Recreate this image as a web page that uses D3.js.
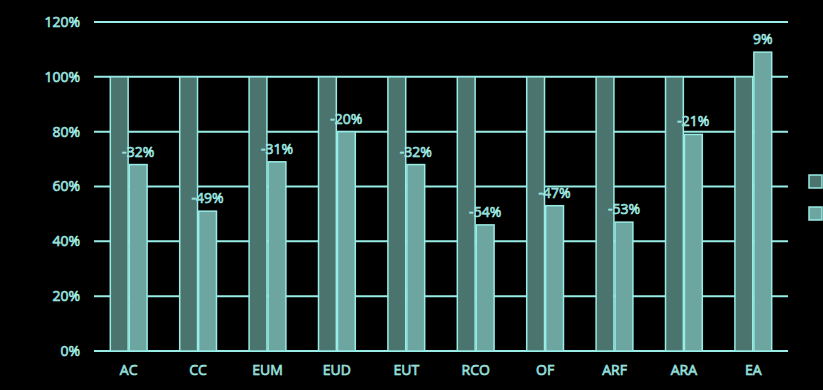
<!DOCTYPE html>
<html>
<head>
<meta charset="utf-8">
<script src="https://cdn.jsdelivr.net/npm/d3@7"></script>
<style>
  html, body { margin: 0; padding: 0; background: #000; }
  text { font-family: "Open Sans", "DejaVu Sans", sans-serif; }
</style>
</head>
<body>
<div id="chart"></div>
<script>
// categories and series
var categories = ["AC", "CC", "EUM", "EUD", "EUT", "RCO", "OF", "ARF", "ARA", "EA"];
var seriesNames = ["base", "current"];
var baseValues = [100, 100, 100, 100, 100, 100, 100, 100, 100, 100];
var currentValues = [68, 51, 69, 80, 68, 46, 53, 47, 79, 109];
var yTicks = [0, 20, 40, 60, 80, 100, 120];

var W = 823, H = 390;
var margin = { top: 22, right: 35, bottom: 39, left: 94 },
    width = W - margin.left - margin.right,
    height = H - margin.top - margin.bottom;

var lineColor = "#98ece6",
    darkFill = "#4b746f",
    lightFill = "#6da6a0",
    textFill = "#7cc4be",
    textEdge = "#a6f2ec";

var data = categories.map(function (c, i) {
  return { cat: c, values: [baseValues[i], currentValues[i]] };
});

var svg = d3.select("#chart").append("svg")
  .attr("width", W)
  .attr("height", H)
  .style("background", "#000");

var g = svg.append("g")
  .attr("transform", "translate(" + margin.left + "," + margin.top + ")");

// outlined text look
function styleText(sel, size) {
  sel.attr("fill", textFill)
    .attr("stroke", textEdge)
    .attr("stroke-width", 0.6)
    .style("font-size", size + "px");
}

// scales
var x0 = d3.scaleBand()
  .domain(categories)
  .range([0, width])
  .paddingInner(0.47)
  .paddingOuter(0.235);

var x1 = d3.scaleBand()
  .domain(seriesNames)
  .range([0, x0.bandwidth()])
  .paddingInner(0.06);

var y = d3.scaleLinear()
  .domain([0, 120])
  .range([height, 0]);

// gridlines
g.selectAll(".grid")
  .data(yTicks)
  .enter().append("line")
  .attr("x1", 0)
  .attr("x2", width)
  .attr("y1", function (d) { return y(d); })
  .attr("y2", function (d) { return y(d); })
  .attr("stroke", lineColor)
  .attr("stroke-width", 2);

// y axis labels
var yAxis = g.append("g")
  .call(d3.axisLeft(y).tickValues(yTicks).tickSize(0).tickPadding(14)
    .tickFormat(function (d) { return d + "%"; }));
yAxis.select(".domain").remove();
yAxis.selectAll("text").call(styleText, 14);

// bars
var groups = g.selectAll(".group")
  .data(data)
  .enter().append("g")
  .attr("transform", function (d) { return "translate(" + x0(d.cat) + ",0)"; });

groups.selectAll("rect")
  .data(function (d) {
    return d.values.map(function (v, i) { return { key: seriesNames[i], value: v }; });
  })
  .enter().append("rect")
  .attr("x", function (d) { return x1(d.key); })
  .attr("width", x1.bandwidth())
  .attr("y", function (d) { return y(d.value); })
  .attr("height", function (d) { return height - y(d.value); })
  .attr("fill", function (d) { return d.key === "base" ? darkFill : lightFill; })
  .attr("stroke", lineColor)
  .attr("stroke-width", 1.5);

// change labels above the second bar
groups.append("text")
  .attr("x", function () { return x1("current") + x1.bandwidth() / 2; })
  .attr("y", function (d) { return y(d.values[1]) - 8; })
  .attr("text-anchor", "middle")
  .call(styleText, 14)
  .text(function (d) {
    var diff = d.values[1] - d.values[0];
    return (diff < 0 ? "-" + Math.abs(diff) : diff) + "%";
  });

// x axis labels
var xAxis = g.append("g")
  .attr("transform", "translate(0," + height + ")")
  .call(d3.axisBottom(x0).tickSize(0).tickPadding(14));
xAxis.select(".domain").remove();
xAxis.selectAll("text").call(styleText, 14);

// legend (cut off at the right edge)
svg.selectAll(".legend")
  .data(seriesNames)
  .enter().append("rect")
  .attr("x", 809)
  .attr("y", function (d, i) { return 175 + i * 32; })
  .attr("width", 13)
  .attr("height", 13)
  .attr("fill", function (d) { return d === "base" ? darkFill : lightFill; })
  .attr("stroke", lineColor)
  .attr("stroke-width", 1.5);
</script>
</body>
</html>
